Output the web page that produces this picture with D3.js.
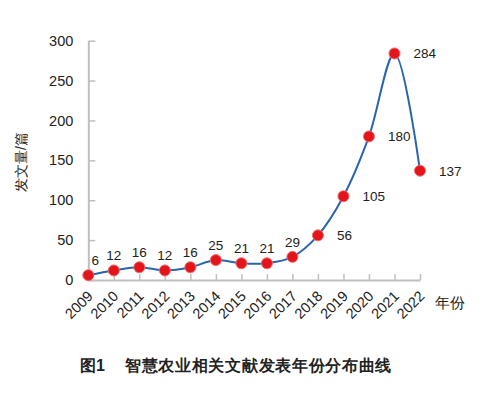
<!DOCTYPE html>
<html>
<head>
<meta charset="utf-8">
<script src="https://d3js.org/d3.v7.min.js"></script>
<style>
  body { margin: 0; background: #fff; }
  text { font-family: "Liberation Sans", Arial, sans-serif; }
</style>
</head>
<body>
<div id="chart"></div>
<script>
  var years = ["2009", "2010", "2011", "2012", "2013", "2014", "2015", "2016", "2017", "2018", "2019", "2020", "2021", "2022"];
  var counts = [6, 12, 16, 12, 16, 25, 21, 21, 29, 56, 105, 180, 284, 137];
  var yTicks = [0, 50, 100, 150, 200, 250, 300];

  var width = 493, height = 398;
  var svg = d3.select("#chart").append("svg")
    .attr("width", width)
    .attr("height", height);

  var x = d3.scalePoint()
    .domain(years)
    .range([88.3, 420]);

  var y = d3.scaleLinear()
    .domain([0, 300])
    .range([280, 40.7]);

  // y axis
  var yAxis = svg.append("g")
    .attr("transform", "translate(88.3,0)")
    .call(d3.axisLeft(y).tickValues(yTicks).tickSizeInner(-7).tickSizeOuter(0).tickPadding(15));
  yAxis.select(".domain").attr("stroke", "#bfbfbf").attr("stroke-width", 2);
  yAxis.selectAll(".tick line").attr("stroke", "#bfbfbf").attr("stroke-width", 1.5);
  yAxis.selectAll(".tick text").attr("font-size", 14.5).attr("fill", "#222");

  // x axis
  var xAxis = svg.append("g")
    .attr("transform", "translate(0,280)")
    .call(d3.axisBottom(x).tickSizeInner(-6).tickSizeOuter(0));
  xAxis.select(".domain").attr("stroke", "#bfbfbf").attr("stroke-width", 2);
  xAxis.selectAll(".tick line").attr("stroke", "#bfbfbf").attr("stroke-width", 1.5);
  xAxis.selectAll(".tick text")
    .attr("font-size", 14.5)
    .attr("fill", "#222")
    .attr("y", 0)
    .attr("dy", 0)
    .attr("transform", "translate(5,17) rotate(-45)")
    .style("text-anchor", "end");

  svg.append("text")
    .attr("x", 435)
    .attr("y", 308)
    .attr("font-size", 14.5)
    .attr("fill", "#222")
    .text("年份");

  svg.append("text")
    .attr("transform", "translate(26,162) rotate(-90)")
    .attr("text-anchor", "middle")
    .attr("font-size", 14)
    .attr("fill", "#222")
    .text("发文量/篇");

  // line
  var line = d3.line()
    .x(function (d, i) { return x(years[i]); })
    .y(function (d) { return y(d); })
    .curve(d3.curveCatmullRom.alpha(0.5));

  svg.append("path")
    .datum(counts)
    .attr("fill", "none")
    .attr("stroke", "#2a64ad")
    .attr("stroke-width", 2)
    .attr("d", line);

  svg.selectAll("circle.pt")
    .data(counts)
    .enter()
    .append("circle")
    .attr("class", "pt")
    .attr("cx", function (d, i) { return x(years[i]); })
    .attr("cy", function (d) { return y(d); })
    .attr("r", 5.5)
    .attr("fill", "#e3151a")
    .attr("stroke", "#f06a6a")
    .attr("stroke-width", 1);

  // data labels
  svg.selectAll("text.lbl")
    .data(counts)
    .enter()
    .append("text")
    .attr("class", "lbl")
    .attr("font-size", 13.5)
    .attr("fill", "#222")
    .attr("x", function (d, i) {
      if (i >= 9) return x(years[i]) + 19;
      if (i == 0) return x(years[i]) + 7;
      return x(years[i]);
    })
    .attr("y", function (d, i) {
      if (i >= 9) return y(d) + 5;
      return y(d) - 10;
    })
    .attr("text-anchor", function (d, i) { return i >= 9 ? "start" : "middle"; })
    .text(function (d) { return d; });

  svg.append("text")
    .attr("x", 80)
    .attr("y", 371)
    .attr("font-size", 16)
    .attr("font-weight", "bold")
    .attr("fill", "#222")
    .text("图1");

  svg.append("text")
    .attr("x", 125)
    .attr("y", 371)
    .attr("font-size", 16)
    .attr("font-weight", "bold")
    .attr("letter-spacing", 0.7)
    .attr("fill", "#222")
    .text("智慧农业相关文献发表年份分布曲线");
</script>
</body>
</html>
